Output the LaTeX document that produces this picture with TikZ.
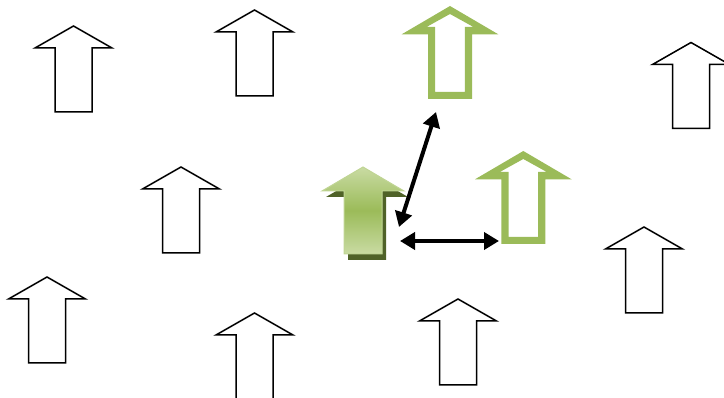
\documentclass[tikz,border=0pt]{standalone}
\usetikzlibrary{arrows.meta}
\definecolor{ogreen}{HTML}{9BBB59}
\definecolor{lgreen}{HTML}{C9DBA3}
\definecolor{dgreen}{HTML}{4F6228}
\tikzset{
  plainarrow/.style={draw=black,line width=1.5pt,fill=white,line join=miter},
  greenoutline/.style={fill=ogreen,even odd rule},
  link/.style={draw=black,line width=4pt,{Triangle[length=15pt,width=17pt]}-{Triangle[length=15pt,width=17pt]}},
  pics/uparr/.style n args={4}{code={%
    % #1 head half width, #2 shaft half width, #3 head height, #4 total height
    \path[pic actions] (0,0) -- (#1,#3) -- (#2,#3) -- (#2,#4) -- (-#2,#4) -- (-#2,#3) -- (-#1,#3) -- cycle;
  }},
  pics/greenring/.style={code={%
    \path[pic actions] (0,0) -- (48.3,28.3) -- (22,28.3) -- (22,93) -- (-22,93) -- (-22,28.3) -- (-48.3,28.3) -- cycle
      (0,8) -- (23.5,21) -- (14.8,21) -- (14.8,86) -- (-14.8,86) -- (-14.8,21) -- (-23.5,21) -- cycle;
  }}
}
\begin{document}
\begin{tikzpicture}[x=1pt,y=-1pt]
\useasboundingbox (0,0) rectangle (724,398);
\begin{scope}
\clip (0,0) rectangle (724,398);
% plain black outlined arrows
\pic[plainarrow] at (73.5,26) {uparr={38.5}{18.5}{22}{86}};
\pic[plainarrow] at (254.5,10) {uparr={38.5}{18.5}{22}{86}};
\pic[plainarrow] at (691,42.5) {uparr={38.5}{18.5}{22}{86}};
\pic[plainarrow] at (181,167) {uparr={38.5}{18.5}{22}{86}};
\pic[plainarrow] at (47,277) {uparr={38.5}{18.5}{22}{86}};
\pic[plainarrow] at (644,227) {uparr={38.5}{18.5}{22}{86}};
\pic[plainarrow] at (458,299) {uparr={38.5}{18.5}{22}{86}};
\pic[plainarrow] at (254.5,313) {uparr={38.5}{18.5}{22}{110}};
% green outlined arrows
\pic[greenoutline] at (450,6) {greenring};
\pic[greenoutline] at (523.3,151) {greenring};
% central filled arrow with shadow
\pic[fill=dgreen] at (367,173) {uparr={41}{19}{24}{87}};
\pic[top color=lgreen,bottom color=lgreen,middle color=ogreen,draw=lgreen!80!ogreen,line width=1pt] at (363,167) {uparr={41}{19}{24}{87}};
\end{scope}
% connectors
\coordinate (dtop) at (436,112);
\coordinate (dbot) at (399,227);
\coordinate (hl) at (400,241);
\coordinate (hr) at (499,241);
\draw[link] (dtop) -- (dbot);
\draw[link] (hl) -- (hr);
\end{tikzpicture}
\end{document}
